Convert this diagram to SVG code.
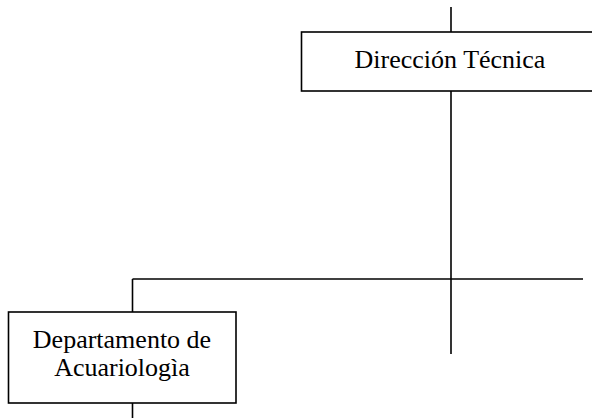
<svg xmlns="http://www.w3.org/2000/svg" width="592" height="418" viewBox="0 0 592 418">
<style>
.box{fill:#fff;stroke:#000;stroke-width:1.6}
.ln{fill:none;stroke:#000;stroke-width:1.6}
text{font-family:"Liberation Serif","Times New Roman",serif;font-size:26px;fill:#000;text-anchor:middle}
</style>
<rect width="592" height="418" fill="#fff"/>
<g id="connectors">
<line class="ln" x1="451" y1="7" x2="451" y2="32"/>
<line class="ln" x1="451" y1="91" x2="451" y2="354"/>
<line class="ln" x1="132.5" y1="279" x2="583" y2="279"/>
<line class="ln" x1="132.5" y1="279" x2="132.5" y2="312"/>
<line class="ln" x1="132.5" y1="403" x2="132.5" y2="418"/>
</g>
<g id="direccion-tecnica">
<rect class="box" x="301.5" y="32" width="300" height="59"/>
<text x="450" y="68">Dirección Técnica</text>
</g>
<g id="departamento-acuariologia">
<rect class="box" x="8.5" y="312" width="227.5" height="91"/>
<text x="122" y="348">Departamento de</text>
<text x="122" y="376">Acuariologìa</text>
</g>
</svg>
